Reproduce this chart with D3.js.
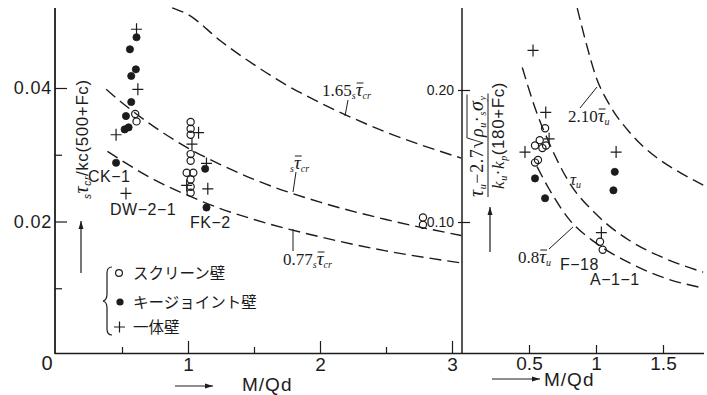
<!DOCTYPE html>
<html>
<head>
<meta charset="utf-8">
<script src="https://cdn.jsdelivr.net/npm/d3@7"></script>
<style>
  body { margin: 0; background: #fff; }
  svg { display: block; }
</style>
</head>
<body>
<svg id="chart" width="707" height="395"></svg>
<script>
// ---- left panel: sTcr / kc(500+Fc) against M/Qd ----
const leftTicksX = [1, 2, 3];
const leftMinorX = [0.5, 1.5, 2.5];
const leftTicksY = [0.02, 0.04];
const leftMinorY = [0.01, 0.03];

const curveCr165 = [[0.88,0.0520],[1.0,0.0510],[1.25,0.0470],[1.5,0.0435],[1.75,0.0404],[2.0,0.0378],[2.5,0.0334],[3.07,0.0295]];
const curveCr100 = [[0.38,0.0398],[0.5,0.0378],[0.75,0.0341],[1.0,0.0310],[1.25,0.0285],[1.5,0.0263],[2.0,0.0229],[2.5,0.0203],[3.07,0.0179]];
const curveCr077 = [[0.39,0.0305],[0.5,0.0291],[0.75,0.0262],[1.0,0.0239],[1.25,0.0219],[1.5,0.0203],[2.0,0.0177],[2.5,0.0156],[3.07,0.0138]];

const leftScreen = [[1.02,0.0349],[1.02,0.0339],[1.02,0.0330],[1.02,0.0301],[1.02,0.0291],[0.99,0.0273],[1.04,0.0273],
  [1.02,0.0263],[1.02,0.0252],[1.02,0.0243],[0.60,0.0361],[0.61,0.0350],[2.78,0.0206],[2.78,0.0195]];
const leftKeyJoint = [[0.61,0.0476],[0.56,0.0458],[0.605,0.0428],[0.57,0.0418],[0.57,0.0379],[0.53,0.0358],
  [0.52,0.0338],[0.55,0.0341],[0.455,0.0288],[1.13,0.0279],[1.14,0.0221]];
const leftMonolithic = [[0.61,0.0488],[0.62,0.0398],[0.455,0.0330],[0.53,0.0242],[1.08,0.0333],[1.03,0.0316],
  [1.14,0.0287],[0.99,0.0254],[1.15,0.0249]];

// ---- right panel: (Tu - 2.7 sqrt(pu sσy)) / ku kp (180+Fc) ----
const rightTicksX = [0.5, 1, 1.5];
const rightTicksY = [0.10, 0.20];

const curveU210 = [[0.86,0.262],[0.92,0.238],[1.0,0.210],[1.1,0.189],[1.25,0.168],[1.45,0.149],[1.6,0.139],[1.8,0.128]];
const curveU100 = [[0.45,0.217],[0.55,0.185],[0.65,0.160],[0.8,0.130],[1.0,0.106],[1.25,0.086],[1.5,0.073],[1.8,0.062]];
const curveU080 = [[0.56,0.142],[0.65,0.125],[0.8,0.102],[1.0,0.084],[1.25,0.069],[1.5,0.058],[1.8,0.050]];

const rightScreen = [[0.62,0.171],[0.58,0.162],[0.545,0.158],[0.60,0.156],[0.627,0.158],[0.567,0.147],[0.545,0.145],
  [1.03,0.085],[1.05,0.079]];
const rightKeyJoint = [[0.545,0.133],[0.62,0.118],[1.14,0.138],[1.13,0.124]];
const rightMonolithic = [[0.53,0.230],[0.625,0.183],[0.47,0.153],[0.65,0.163],[1.15,0.153],[1.04,0.092]];

const legendItems = ['スクリーン壁', 'キージョイント壁', '一体壁'];

const ink = '#1c1c1c';
const svg = d3.select('#chart');

const xL = d3.scaleLinear().domain([0, 3]).range([56, 452]);
const yL = d3.scaleLinear().domain([0, 0.04]).range([355, 88]);
const xR = d3.scaleLinear().domain([0, 1.5]).range([462, 663]);
const yR = d3.scaleLinear().domain([0, 0.2]).range([354, 90]);

const numFont = '"Liberation Sans", Arial, sans-serif';
const serif = '"Liberation Serif", "DejaVu Serif", serif';
const jp = '"Noto Sans CJK JP", sans-serif';

// frame lines
svg.append('line').attr('x1', 55).attr('x2', 55).attr('y1', 8).attr('y2', 354)
  .attr('stroke', ink).attr('stroke-width', 1.8);
svg.append('line').attr('x1', 462).attr('x2', 462).attr('y1', 8).attr('y2', 354)
  .attr('stroke', ink).attr('stroke-width', 1.5);
svg.append('line').attr('x1', 55).attr('x2', 704).attr('y1', 353.5).attr('y2', 353.5)
  .attr('stroke', ink).attr('stroke-width', 1.6);

// left x axis
const axLx = svg.append('g').attr('transform', 'translate(0,353)')
  .call(d3.axisBottom(xL).tickValues(leftTicksX).tickSize(-12).tickPadding(5).tickFormat(d3.format('d')));
svg.append('g').attr('transform', 'translate(0,353)')
  .call(d3.axisBottom(xL).tickValues(leftMinorX).tickSize(-6).tickFormat(''));

// right x axis
const axRx = svg.append('g').attr('transform', 'translate(0,353)')
  .call(d3.axisBottom(xR).tickValues(rightTicksX).tickSize(-8).tickPadding(3).tickFormat(d => d === 1 ? '1' : d3.format('.1f')(d)));

// left y axis
const axLy = svg.append('g').attr('transform', 'translate(55,0)')
  .call(d3.axisRight(yL).tickValues(leftTicksY).tickSize(12).tickFormat(d3.format('.2f')));
axLy.selectAll('.tick text').attr('x', -3).attr('text-anchor', 'end')
  .attr('font-size', 18).attr('letter-spacing', 0.8);
svg.append('g').attr('transform', 'translate(55,0)')
  .call(d3.axisRight(yL).tickValues(leftMinorY).tickSize(7).tickFormat(''));

// right y axis
const axRy = svg.append('g').attr('transform', 'translate(462,0)')
  .call(d3.axisLeft(yR).tickValues(rightTicksY).tickSize(5).tickPadding(3).tickFormat(d3.format('.2f')));
axRy.selectAll('.tick line').attr('x2', 8).attr('x1', -4);
axRy.selectAll('.tick text').attr('font-size', 14);

svg.selectAll('.domain').remove();
svg.selectAll('.tick line').attr('stroke', ink).attr('stroke-width', 1.2);
svg.selectAll('.tick text').attr('fill', ink).attr('font-family', numFont);
axLx.selectAll('.tick text').attr('font-size', 19);
axRx.selectAll('.tick text').attr('font-size', 19);

// origin label
svg.append('text').attr('x', 47).attr('y', 370).attr('text-anchor', 'middle')
  .attr('font-family', numFont).attr('font-size', 20).attr('fill', ink).text('0');

// dashed design curves
const lineL = d3.line().x(d => xL(d[0])).y(d => yL(d[1])).curve(d3.curveMonotoneX);
const lineR = d3.line().x(d => xR(d[0])).y(d => yR(d[1])).curve(d3.curveMonotoneX);
[curveCr165, curveCr100, curveCr077].forEach(c => {
  svg.append('path').attr('d', lineL(c)).attr('fill', 'none').attr('stroke', ink)
    .attr('stroke-width', 1.4).attr('stroke-dasharray', '12,6');
});
[curveU210, curveU100, curveU080].forEach(c => {
  svg.append('path').attr('d', lineR(c)).attr('fill', 'none').attr('stroke', ink)
    .attr('stroke-width', 1.4).attr('stroke-dasharray', '12,6');
});

// markers
function drawMarkers(data, xs, ys, kind) {
  const g = svg.append('g');
  if (kind === 'open') {
    g.selectAll('circle').data(data).join('circle')
      .attr('cx', d => xs(d[0])).attr('cy', d => ys(d[1])).attr('r', 3.6)
      .attr('fill', 'none').attr('stroke', ink).attr('stroke-width', 1.2);
  } else if (kind === 'filled') {
    g.selectAll('circle').data(data).join('circle')
      .attr('cx', d => xs(d[0])).attr('cy', d => ys(d[1])).attr('r', 3.6)
      .attr('fill', ink).attr('stroke', ink).attr('stroke-width', 0.8);
  } else {
    g.selectAll('path').data(data).join('path')
      .attr('d', d => {
        const x = xs(d[0]), y = ys(d[1]);
        return `M${x - 5.5},${y}H${x + 5.5}M${x},${y - 6}V${y + 6}`;
      })
      .attr('stroke', ink).attr('stroke-width', 1.2).attr('fill', 'none');
  }
}
drawMarkers(leftScreen, xL, yL, 'open');
drawMarkers(leftKeyJoint, xL, yL, 'filled');
drawMarkers(leftMonolithic, xL, yL, 'plus');
drawMarkers(rightScreen, xR, yR, 'open');
drawMarkers(rightKeyJoint, xR, yR, 'filled');
drawMarkers(rightMonolithic, xR, yR, 'plus');

// specimen labels
function label(x, y, str, size) {
  svg.append('text').attr('x', x).attr('y', y).attr('font-family', numFont)
    .attr('font-size', size || 16).attr('fill', ink).attr('letter-spacing', 0.5).text(str);
}
label(88, 182, 'CK−1');
label(110, 215, 'DW−2−1');
label(190, 228, 'FK−2');
label(560, 270, 'F−18');
label(590, 285, 'A−1−1');

// curve labels: [pre][small s]τ̄[sub]
function tauLabel(x, y, pre, preSub, sub) {
  const t = svg.append('text').attr('x', x).attr('y', y).attr('font-family', serif)
    .attr('font-size', 17).attr('fill', ink);
  if (pre) t.append('tspan').text(pre);
  if (preSub) t.append('tspan').attr('font-size', 10).attr('font-style', 'italic').attr('dy', 3).text(preSub);
  t.append('tspan').attr('font-style', 'italic').attr('font-size', 19).attr('dy', preSub ? -3 : 0).text('τ');
  t.append('tspan').attr('font-size', 10).attr('font-style', 'italic').attr('dy', 3).text(sub);
  // overbar above the tau
  const i = pre.length + preSub.length;
  const n = t.node();
  const a = n.getStartPositionOfChar(i).x, b = n.getEndPositionOfChar(i).x;
  svg.append('line').attr('x1', a + 1).attr('x2', b + 1).attr('y1', y - 13).attr('y2', y - 13)
    .attr('stroke', ink).attr('stroke-width', 1);
  return t;
}
function leader(x1, y1, x2, y2) {
  svg.append('line').attr('x1', x1).attr('y1', y1).attr('x2', x2).attr('y2', y2)
    .attr('stroke', ink).attr('stroke-width', 1);
}
tauLabel(322, 96, '1.65', 's', 'cr');
leader(348, 100, 345, 116);
tauLabel(290, 169, '', 's', 'cr');
leader(296, 172, 293, 192);
tauLabel(283, 265, '0.77', 's', 'cr');
leader(293, 229, 293, 251);
tauLabel(568, 122, '2.10', '', 'u');
leader(580, 108, 597, 87);
const tu = svg.append('text').attr('x', 570).attr('y', 185).attr('font-family', serif)
  .attr('font-size', 17).attr('fill', ink);
tu.append('tspan').attr('font-style', 'italic').text('τ');
tu.append('tspan').attr('font-size', 10).attr('font-style', 'italic').attr('dy', 3).text('u');
tauLabel(518, 263, '0.8', '', 'u');
leader(549, 249, 573, 227);

// legend
const lg = svg.append('g');
lg.append('path')
  .attr('d', 'M112,267 Q107,267 107,273 L107,294 Q107,300 103,301 Q107,302 107,308 L107,329 Q107,335 112,335')
  .attr('fill', 'none').attr('stroke', ink).attr('stroke-width', 1.2);
lg.append('circle').attr('cx', 119).attr('cy', 273).attr('r', 3.4)
  .attr('fill', 'none').attr('stroke', ink).attr('stroke-width', 1.2);
lg.append('circle').attr('cx', 120).attr('cy', 302).attr('r', 3.6).attr('fill', ink);
lg.append('path').attr('d', 'M114,327H125M119.5,321.5V332.5').attr('stroke', ink).attr('stroke-width', 1.2);
lg.selectAll('text').data(legendItems).join('text')
  .attr('x', 133).attr('y', (d, i) => [279, 308, 333][i])
  .attr('font-family', jp).attr('font-size', 15.5).attr('fill', ink).text(d => d);

// axis titles
function arrow(x1, y1, x2, y2) {
  svg.append('line').attr('x1', x1).attr('y1', y1).attr('x2', x2).attr('y2', y2)
    .attr('stroke', ink).attr('stroke-width', 1.2);
  const a = Math.atan2(y2 - y1, x2 - x1);
  const p = [[x2, y2],
    [x2 - 8 * Math.cos(a) + 2.5 * Math.sin(a), y2 - 8 * Math.sin(a) - 2.5 * Math.cos(a)],
    [x2 - 8 * Math.cos(a) - 2.5 * Math.sin(a), y2 - 8 * Math.sin(a) + 2.5 * Math.cos(a)]];
  svg.append('path').attr('d', 'M' + p.join('L') + 'Z').attr('fill', ink);
}
arrow(175, 386, 213, 386);
svg.append('text').attr('x', 242).attr('y', 391).attr('font-family', numFont)
  .attr('font-size', 19).attr('fill', ink).attr('letter-spacing', 1).text('M/Qd');
arrow(492, 379, 540, 379);
svg.append('text').attr('x', 544).attr('y', 386).attr('font-family', numFont)
  .attr('font-size', 19).attr('fill', ink).attr('letter-spacing', 1).text('M/Qd');

// left y title (rotated)
arrow(81, 273, 81, 221);
const ly = svg.append('text').attr('transform', 'translate(88,199) rotate(-90)')
  .attr('font-family', numFont).attr('font-size', 17).attr('fill', ink).attr('letter-spacing', 0.6);
ly.append('tspan').attr('font-size', 10).attr('font-style', 'italic').attr('dy', 3).text('s');
ly.append('tspan').attr('font-family', serif).attr('font-style', 'italic').attr('font-size', 20).attr('dy', -3).text('τ');
ly.append('tspan').attr('font-size', 10).attr('font-style', 'italic').attr('dy', 3).text('cr');
ly.append('tspan').attr('dy', -3).text('/kc(500+Fc)');

// right y title: fraction, rotated
arrow(490, 252, 490, 207);
const rg = svg.append('g').attr('transform', 'translate(488,199) rotate(-90)');
const num = rg.append('text').attr('x', 2).attr('y', -5).attr('font-family', serif)
  .attr('font-size', 18).attr('fill', ink).attr('letter-spacing', 0.6);
num.append('tspan').attr('font-style', 'italic').attr('font-size', 20).text('τ');
num.append('tspan').attr('font-size', 10).attr('font-style', 'italic').attr('dy', 3).text('u');
num.append('tspan').attr('dy', -3).text('−2.7');
num.append('tspan').attr('font-size', 20).text('√');
num.append('tspan').attr('font-style', 'italic').text('ρ');
num.append('tspan').attr('font-size', 10).attr('font-style', 'italic').attr('dy', 3).text('u');
num.append('tspan').attr('dy', -3).text('·');
num.append('tspan').attr('font-size', 10).attr('font-style', 'italic').attr('dy', 3).text('s');
num.append('tspan').attr('font-style', 'italic').attr('font-size', 20).attr('dy', -3).text('σ');
num.append('tspan').attr('font-size', 10).attr('font-style', 'italic').attr('dy', 3).text('y');
// radical overline over the root term
const nn = num.node();
const ri = 'τu−2.7'.length;
const rx0 = nn.getEndPositionOfChar(ri).x, rx1 = nn.getEndPositionOfChar(nn.getNumberOfChars() - 1).x;
rg.append('line').attr('x1', rx0 - 1).attr('x2', rx1 + 1).attr('y1', -21).attr('y2', -21)
  .attr('stroke', ink).attr('stroke-width', 1);
rg.append('line').attr('x1', 2).attr('x2', rx1 + 2).attr('y1', 0).attr('y2', 0)
  .attr('stroke', ink).attr('stroke-width', 1);
const den = rg.append('text').attr('x', 10).attr('y', 16).attr('font-family', serif)
  .attr('font-size', 17).attr('fill', ink).attr('letter-spacing', 0.6);
den.append('tspan').attr('font-style', 'italic').text('k');
den.append('tspan').attr('font-size', 10).attr('font-style', 'italic').attr('dy', 3).text('u');
den.append('tspan').attr('dy', -3).text('·');
den.append('tspan').attr('font-style', 'italic').text('k');
den.append('tspan').attr('font-size', 10).attr('font-style', 'italic').attr('dy', 3).text('p');
den.append('tspan').attr('dy', -3).attr('font-family', numFont).text('(180+Fc)');
</script>
</body>
</html>
